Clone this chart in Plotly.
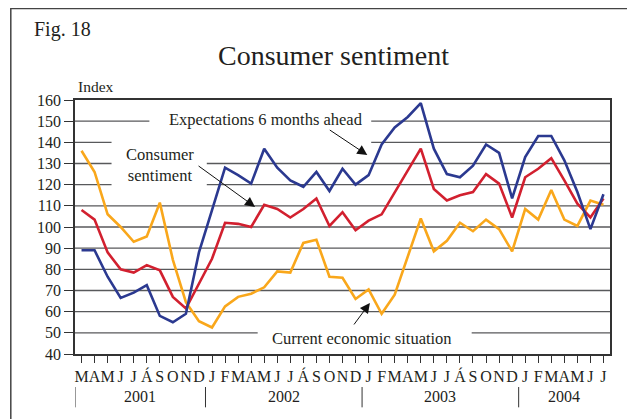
import plotly.graph_objects as go

# Months from March 2001 to July 2004
month_labels = (["M", "A", "M", "J", "J", "Á", "S", "O", "N", "D"]
                + ["J", "F", "M", "A", "M", "J", "J", "Á", "S", "O", "N", "D"] * 2
                + ["J", "F", "M", "A", "M", "J", "J"])
years = ["2001"] * 10 + ["2002"] * 12 + ["2003"] * 12 + ["2004"] * 7

expectations = [89, 89, 76.5, 66.5, 69, 72.5, 58, 55, 59, 88,
                108, 128, 124.5, 120.5, 137, 128, 122, 119, 126, 117, 127.5, 120,
                124.5, 139, 147, 152, 158.5, 137, 125, 123.5, 129, 139, 135, 113.5,
                133, 143, 143, 131.5, 116.5, 99, 115.5]
sentiment = [108, 103.5, 88, 80, 78.5, 82, 79.5, 67, 61.5, 73.5,
             85, 102, 101.5, 100, 110.5, 108.5, 104.5, 108.5, 113.5, 100.5, 107, 98.5,
             103, 106, 116.5, 127, 137, 118, 112.5, 115, 116.5, 125, 120.5, 104.5,
             123.5, 127.5, 132.5, 122, 111, 104.5, 113.5]
current = [136, 126, 106, 100, 93, 95.5, 111.5, 84.5, 64.5, 55.5,
           52.5, 62.5, 67, 68.5, 71.5, 79, 78.5, 92.5, 94, 76.5, 76, 66,
           70.5, 59, 68, 86, 104, 88.5, 93.5, 102, 98, 103.5, 99, 88.5,
           108.5, 103.5, 117.5, 103.5, 100.5, 112.5, 110.5]

x = list(range(len(month_labels)))
FONT = "Liberation Serif, Times New Roman, serif"
TXT = "#231f20"
GRID = "#58595b"

fig = go.Figure()

series = [
    (current, "Current economic situation", "#f9a71b"),
    (sentiment, "Consumer sentiment", "#d2202f"),
    (expectations, "Expectations 6 months ahead", "#2b3990"),
]
for vals, name, color in series:
    fig.add_trace(go.Scatter(x=x, y=vals, mode="lines", name=name,
                             line=dict(color=color, width=2.6)))

# gridlines, broken where the labels sit
grid = {
    50: [(-0.5, 13.5), (29.9, 40.5)],
    60: [(-0.5, 40.5)], 70: [(-0.5, 40.5)], 80: [(-0.5, 40.5)],
    90: [(-0.5, 40.5)], 100: [(-0.5, 40.5)], 110: [(-0.5, 40.5)],
    120: [(-0.5, 2.3), (9.6, 40.5)],
    130: [(-0.5, 2.3), (9.6, 40.5)],
    140: [(-0.5, 2.3), (22.2, 40.5)],
    150: [(-0.5, 5.2), (22.2, 40.5)],
}
shapes = []
for yv, segs in grid.items():
    for x0, x1 in segs:
        shapes.append(dict(type="line", xref="x", yref="y", x0=x0, x1=x1, y0=yv, y1=yv,
                           line=dict(color=GRID, width=1.4), layer="below"))

# year separators below the month labels
year_names = list(dict.fromkeys(years))
starts = [years.index(yr) for yr in year_names]
for s in starts:
    shapes.append(dict(type="line", xref="x", yref="paper", x0=s - 0.5, x1=s - 0.5,
                       y0=-0.13, y1=-0.21, line=dict(color="#333", width=1)))

# outer frame
shapes.append(dict(type="rect", xref="paper", yref="paper", x0=-0.12, x1=1.06,
                   y0=-0.4, y1=1.36, line=dict(color="#444", width=1.5)))

annotations = []
for yr, s in zip(year_names, starts):
    mid = (s + s + years.count(yr) - 1) / 2
    annotations.append(dict(x=mid, y=-0.169, xref="x", yref="paper", text=yr,
                            xanchor="center", yanchor="middle",
                            showarrow=False, font=dict(size=16)))

annotations += [
    dict(x=-0.08, y=1.276, xref="paper", yref="paper", text="Fig. 18",
         xanchor="left", yanchor="middle", showarrow=False, font=dict(size=20)),
    dict(x=0.484, y=1.177, xref="paper", yref="paper", text="Consumer sentiment",
         xanchor="center", yanchor="middle", showarrow=False, font=dict(size=28)),
    dict(x=0.002, y=1.055, xref="paper", yref="paper", text="Index",
         xanchor="left", yanchor="middle", showarrow=False, font=dict(size=15.5)),
    dict(x=14.1, y=151, text="Expectations 6 months ahead", showarrow=False,
         font=dict(size=16.5)),
    dict(x=6.0, y=129.5, text="Consumer<br>sentiment", showarrow=False,
         font=dict(size=16.5)),
    dict(x=21.5, y=47.2, text="Current economic situation", showarrow=False,
         font=dict(size=16.5)),
    # arrows
    dict(x=21.9, y=134, ax=-39, ay=-26, text="", showarrow=True, arrowhead=2,
         arrowsize=2, arrowwidth=1, arrowcolor="#111"),
    dict(x=13.3, y=109.5, ax=-58, ay=-42, text="", showarrow=True, arrowhead=2,
         arrowsize=2, arrowwidth=1, arrowcolor="#111"),
    dict(x=22.1, y=64.1, ax=-17, ay=23, text="", showarrow=True, arrowhead=2,
         arrowsize=2, arrowwidth=1, arrowcolor="#111"),
]

# the page body adds 8px, so the figure is 8px smaller and margins shifted
fig.update_layout(
    width=627, height=411,
    margin=dict(l=67, r=25, t=92, b=65),
    paper_bgcolor="white", plot_bgcolor="white",
    showlegend=False,
    font=dict(family=FONT, color=TXT, size=16),
    shapes=shapes, annotations=annotations,
    xaxis=dict(range=[-0.5, 40.5], tickvals=x, ticktext=month_labels,
               ticks="outside", ticklen=7, tickcolor="#333", tickwidth=1,
               showgrid=False, zeroline=False, showline=True, mirror=True,
               linecolor="#333", linewidth=1.5, tickfont=dict(size=16), tickangle=0),
    yaxis=dict(range=[40, 160], dtick=10, ticks="outside", ticklen=9,
               tickcolor="#333", tickwidth=1, showgrid=False, zeroline=False,
               showline=True, mirror=True, linecolor="#333", linewidth=1.5,
               tickfont=dict(size=16)),
)

fig.write_html("out.html")
